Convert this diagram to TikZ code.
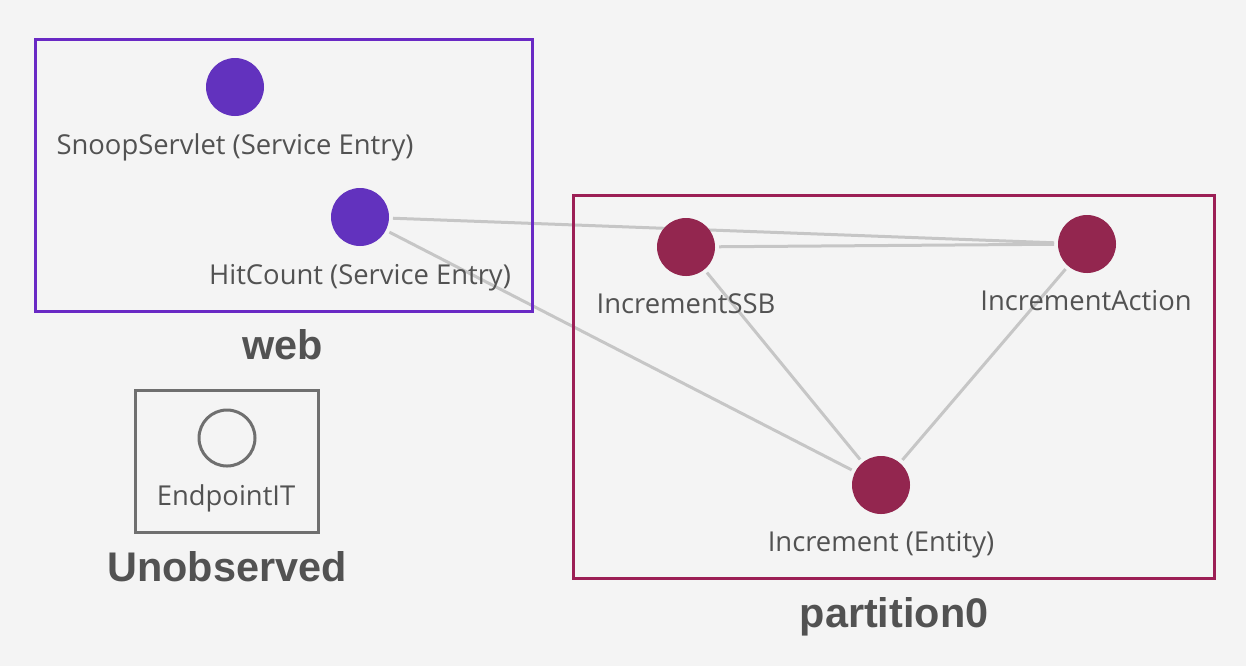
\documentclass[tikz,border=0pt]{standalone}
\usepackage{fontspec}
\setmainfont{Open Sans}
\newfontfamily\titlefont{Liberation Sans}
\usetikzlibrary{positioning}
\definecolor{pagebg}{HTML}{F4F4F4}
\definecolor{webline}{HTML}{6929C4}
\definecolor{webfill}{HTML}{6232BE}
\definecolor{partline}{HTML}{9C1F55}
\definecolor{partfill}{HTML}{93264F}
\definecolor{unobsline}{HTML}{6F6F6F}
\definecolor{linkcol}{HTML}{C6C6C6}
\definecolor{textcol}{HTML}{525252}
\pgfdeclarelayer{pagelayer}
\pgfdeclarelayer{linklayer}
\pgfsetlayers{pagelayer,linklayer,main}
\tikzset{
    websvc/.style={circle, fill=webfill, minimum size=29pt, inner sep=0pt, outer sep=2pt},
    partsvc/.style={circle, fill=partfill, minimum size=29pt, inner sep=0pt, outer sep=2pt},
    unobssvc/.style={circle, draw=unobsline, line width=1.5pt, minimum size=28pt, inner sep=0pt, outer sep=2pt},
    svclabel/.style={anchor=base, text=textcol, inner sep=0pt, font=\fontsize{13.7}{16}\selectfont},
    grouptitle/.style={anchor=base, text=textcol, inner sep=0pt, font=\titlefont\bfseries\fontsize{20.7}{24}\selectfont},
    groupbox/.style={line width=1.5pt},
    link/.style={draw=linkcol, line width=1.5pt}
}

\begin{document}
\begin{tikzpicture}[x=0.5pt, y=-0.5pt]
    \useasboundingbox (0, 0) rectangle (1246, 666);
    \begin{pgfonlayer}{pagelayer}
        \fill[pagebg] (0, 0) rectangle (1246, 666);
    \end{pgfonlayer}
    % web
    \draw[groupbox, webline] (35, 39) -- (532, 39) -- (532, 311) -- (35, 311) -- cycle;
    \node[websvc] (snoop) at (235, 87) {};
    \node[svclabel] (snooplbl) at (235, 154) {SnoopServlet (Service Entry)};
    \node[websvc] (hitcount) at (360, 217) {};
    \node[svclabel] (hitcountlbl) at (360, 284) {HitCount (Service Entry)};
    \node[grouptitle] (webtitle) at (283, 359) {web};
    % unobserved
    \draw[groupbox, unobsline] (135, 390) -- (318, 390) -- (318, 532) -- (135, 532) -- cycle;
    \node[unobssvc] (endpoint) at (227, 438) {};
    \node[svclabel] (endpointlbl) at (226, 505) {EndpointIT};
    \node[grouptitle] (unobstitle) at (227, 581) {Unobserved};
    % partition0
    \draw[groupbox, partline] (573, 195) -- (1214, 195) -- (1214, 578) -- (573, 578) -- cycle;
    \node[partsvc] (ssb) at (686, 247) {};
    \node[svclabel] (ssblbl) at (686, 313) {IncrementSSB};
    \node[partsvc] (action) at (1087, 244) {};
    \node[svclabel] (actionlbl) at (1086, 310) {IncrementAction};
    \node[partsvc] (entity) at (881, 485) {};
    \node[svclabel] (entitylbl) at (881, 551) {Increment (Entity)};
    \node[grouptitle] (parttitle) at (894, 627) {partition0};
    % links
    \begin{pgfonlayer}{linklayer}
        \draw[link] (hitcount) -- (action);
        \draw[link] (hitcount) -- (entity);
        \draw[link] (ssb) -- (action);
        \draw[link] (ssb) -- (entity);
        \draw[link] (action) -- (entity);
    \end{pgfonlayer}
\end{tikzpicture}
\end{document}
